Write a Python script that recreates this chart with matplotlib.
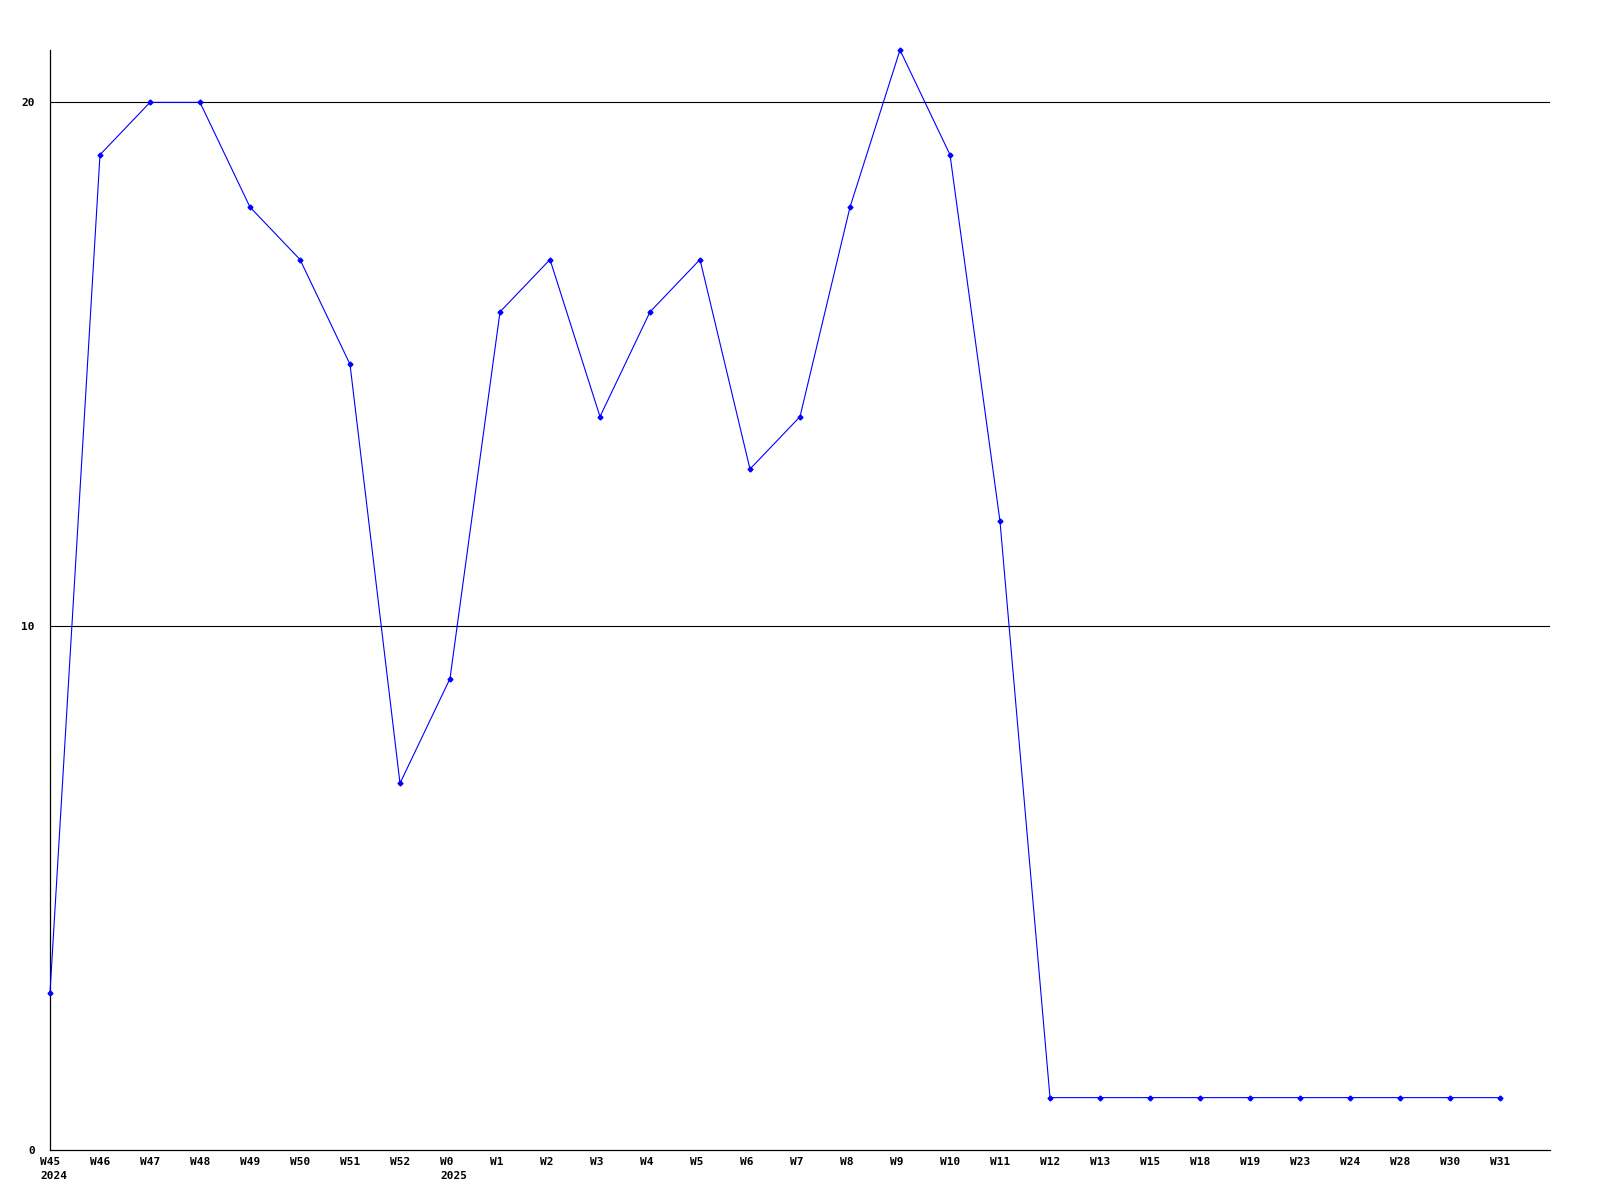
import matplotlib
matplotlib.use("Agg")
import matplotlib.pyplot as plt
import matplotlib.transforms as mtransforms

# weekly counts
weeks = ["W45", "W46", "W47", "W48", "W49", "W50", "W51", "W52", "W0", "W1",
         "W2", "W3", "W4", "W5", "W6", "W7", "W8", "W9", "W10", "W11",
         "W12", "W13", "W15", "W18", "W19", "W23", "W24", "W28", "W30", "W31"]
years = {0: "2024", 8: "2025"}
values = [3, 19, 20, 20, 18, 17, 15, 7, 9, 16,
          17, 14, 16, 17, 13, 14, 18, 21, 19, 12,
          1, 1, 1, 1, 1, 1, 1, 1, 1, 1]
yticks = [0, 10, 20]

font = {"family": "DejaVu Sans Mono", "weight": "bold", "size": 8}

fig = plt.figure(figsize=(16, 12), dpi=100)
ax = fig.add_axes([50 / 1600, 50 / 1200, 1500 / 1600, 1100 / 1200])

x = list(range(len(values)))
for yv in yticks[1:]:
    ax.axhline(yv, color="black", lw=0.8, zorder=1)
ax.plot(x, values, color="#0000ff", lw=0.8, marker="D", ms=2.5,
        mec="#0000ff", mfc="#0000ff", zorder=3, clip_on=False)

ax.set_xlim(0, 30)
ax.set_ylim(0, 21)
for s in ["top", "right"]:
    ax.spines[s].set_visible(False)
for s in ["left", "bottom"]:
    ax.spines[s].set_linewidth(0.9)
    ax.spines[s].set_color("black")

ax.set_xticks([])
ax.set_yticks(yticks)
ax.set_yticklabels([str(v) for v in yticks], fontdict=font)
ax.tick_params(axis="y", length=0, pad=11)

trans = mtransforms.blended_transform_factory(ax.transData, ax.transAxes)
off = mtransforms.ScaledTranslation(-10 / 100, -7 / 100, fig.dpi_scale_trans)
for i, w in enumerate(weeks):
    lab = w
    if i in years:
        lab = w + "\n" + years[i]
    ax.text(i, 0, lab, transform=trans + off,
            ha="left", va="top", linespacing=1.45, **font)

fig.savefig("out.png", dpi=100)
